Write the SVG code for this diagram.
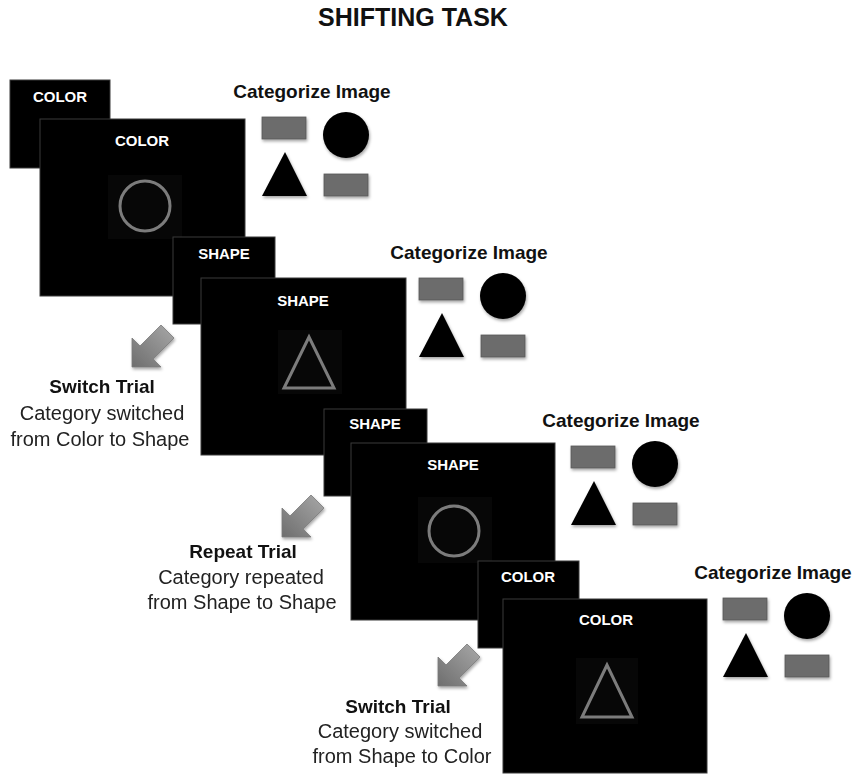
<svg xmlns="http://www.w3.org/2000/svg" width="866" height="778" viewBox="0 0 866 778">
<style>
.box{fill:#000;stroke:#3a3a3a;stroke-width:1}
.lbl{font-family:"Liberation Sans",Arial,sans-serif;font-weight:bold;font-size:15px;fill:#fff;text-anchor:middle}
.cat{font-family:"Liberation Sans",Arial,sans-serif;font-weight:bold;font-size:19px;fill:#111;text-anchor:middle}
.title{font-family:"Liberation Sans",Arial,sans-serif;font-weight:bold;font-size:25px;fill:#111;text-anchor:middle}
.tb{font-family:"Liberation Sans",Arial,sans-serif;font-weight:bold;font-size:19px;fill:#111;text-anchor:middle}
.tr{font-family:"Liberation Sans",Arial,sans-serif;font-size:20px;fill:#222;text-anchor:middle}
.ring{fill:none;stroke:#7c7c7c;stroke-width:3}
.gr{fill:#6c6c6c;stroke:#5a5a5a;stroke-width:0.8}
.blk{fill:#000}
.halo{fill:#070707}
</style>
<defs>
<filter id="sh" x="-20%" y="-20%" width="150%" height="150%">
<feDropShadow dx="1" dy="2" stdDeviation="1.5" flood-color="#000" flood-opacity="0.35"/>
</filter>
<linearGradient id="ag" x1="1" y1="0" x2="0" y2="1">
<stop offset="0" stop-color="#a8a8a8"/>
<stop offset="1" stop-color="#6e6e6e"/>
</linearGradient>
</defs>
<rect width="866" height="778" fill="#fff"/>
<text class="title" x="413" y="26">SHIFTING TASK</text>

<g id="trial1">
<rect class="box" x="10" y="80" width="100" height="88"/>
<text class="lbl" x="60" y="102">COLOR</text>
<rect class="box" x="40" y="119" width="205" height="177"/>
<text class="lbl" x="142" y="146">COLOR</text>
<rect class="halo" x="108" y="175" width="74" height="64"/>
<circle class="ring" cx="145" cy="206" r="25"/>
</g>

<g id="trial2">
<rect class="box" x="173" y="237" width="102" height="87"/>
<text class="lbl" x="224" y="259">SHAPE</text>
<rect class="box" x="201" y="278" width="205" height="177"/>
<text class="lbl" x="303" y="306">SHAPE</text>
<rect class="halo" x="278" y="330" width="64" height="64"/>
<polygon class="ring" points="309,337 284,388 334,388"/>
</g>

<g id="trial3">
<rect class="box" x="324" y="409" width="103" height="87"/>
<text class="lbl" x="375" y="429">SHAPE</text>
<rect class="box" x="351" y="443" width="204" height="177"/>
<text class="lbl" x="453" y="470">SHAPE</text>
<rect class="halo" x="418" y="497" width="74" height="66"/>
<circle class="ring" cx="454" cy="531" r="25"/>
</g>

<g id="trial4">
<rect class="box" x="478" y="561" width="101" height="87"/>
<text class="lbl" x="528" y="582">COLOR</text>
<rect class="box" x="503" y="599" width="204" height="174"/>
<text class="lbl" x="606" y="625">COLOR</text>
<rect class="halo" x="576" y="658" width="62" height="66"/>
<polygon class="ring" points="607,665 582,717 632,717"/>
</g>

<g id="categorize1">
<text class="cat" x="312" y="98">Categorize Image</text>
<g filter="url(#sh)">
<rect class="gr" x="262" y="117" width="44" height="22"/>
<circle class="blk" cx="346" cy="135" r="23"/>
<polygon class="blk" points="285,152 262,196 307,196"/>
<rect class="gr" x="324" y="174" width="44" height="22"/>
</g>
</g>

<g id="categorize2" transform="translate(157,161)">
<text class="cat" x="312" y="98">Categorize Image</text>
<g filter="url(#sh)">
<rect class="gr" x="262" y="117" width="44" height="22"/>
<circle class="blk" cx="346" cy="135" r="23"/>
<polygon class="blk" points="285,152 262,196 307,196"/>
<rect class="gr" x="324" y="174" width="44" height="22"/>
</g>
</g>

<g id="categorize3" transform="translate(309,329)">
<text class="cat" x="312" y="98">Categorize Image</text>
<g filter="url(#sh)">
<rect class="gr" x="262" y="117" width="44" height="22"/>
<circle class="blk" cx="346" cy="135" r="23"/>
<polygon class="blk" points="285,152 262,196 307,196"/>
<rect class="gr" x="324" y="174" width="44" height="22"/>
</g>
</g>

<g id="categorize4" transform="translate(461,481)">
<text class="cat" x="312" y="98">Categorize Image</text>
<g filter="url(#sh)">
<rect class="gr" x="262" y="117" width="44" height="22"/>
<circle class="blk" cx="346" cy="135" r="23"/>
<polygon class="blk" points="285,152 262,196 307,196"/>
<rect class="gr" x="324" y="174" width="44" height="22"/>
</g>
</g>

<g id="connectors" fill="url(#ag)" stroke="#7a7a7a" stroke-width="0.8" filter="url(#sh)">
<polygon transform="translate(132,367)" points="0,0 0,-29 8,-21 29,-42 42,-29 21,-8 29,0"/>
<polygon transform="translate(282,537)" points="0,0 0,-29 8,-21 29,-42 42,-29 21,-8 29,0"/>
<polygon transform="translate(438,686)" points="0,0 0,-29 8,-21 29,-42 42,-29 21,-8 29,0"/>
</g>

<g id="label1">
<text class="tb" x="102" y="393">Switch Trial</text>
<text class="tr" x="102" y="420">Category switched</text>
<text class="tr" x="100" y="446">from Color to Shape</text>
</g>
<g id="label2">
<text class="tb" x="243" y="558">Repeat Trial</text>
<text class="tr" x="241" y="584">Category repeated</text>
<text class="tr" x="242" y="609">from Shape to Shape</text>
</g>
<g id="label3">
<text class="tb" x="398" y="713">Switch Trial</text>
<text class="tr" x="400" y="738">Category switched</text>
<text class="tr" x="402" y="763">from Shape to Color</text>
</g>
</svg>
